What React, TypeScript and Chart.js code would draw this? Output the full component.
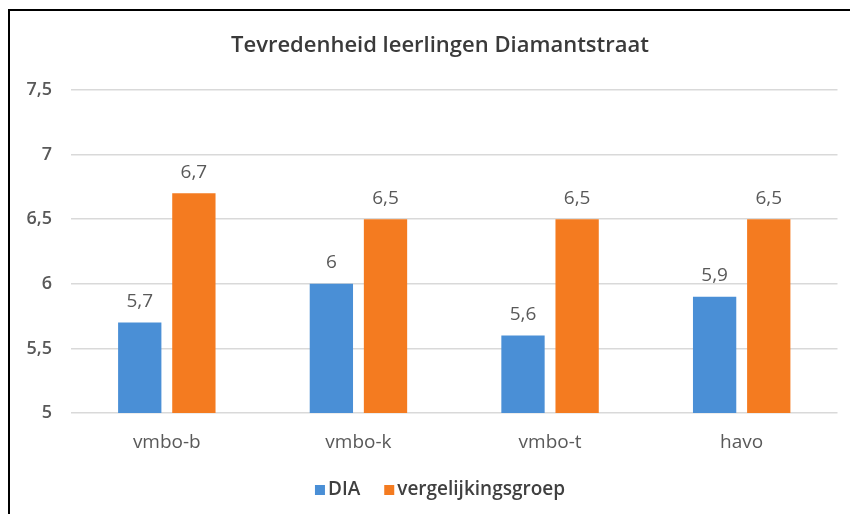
import React, { useEffect, useRef } from "react";
import { Chart, registerables } from "chart.js";

Chart.register(...registerables);

const categories = ["vmbo-b", "vmbo-k", "vmbo-t", "havo"];
const diaValues = [5.7, 6.0, 5.6, 5.9];
const vergelijkingValues = [6.7, 6.5, 6.5, 6.5];
const seriesNames = ["DIA", "vergelijkingsgroep"];
const seriesColors = ["#4a8fd6", "#f47b20"];
const titleText = "Tevredenheid leerlingen Diamantstraat";

const FONT = "'Open Sans', 'Liberation Sans', sans-serif";
const fmt = (v: number) => String(v).replace(".", ",");

// The original chart object is wider than the cropped picture, so its title and
// legend are centred on this x instead of the canvas centre.
const CENTER_X = 440;

const dataLabelPlugin = {
  id: "dataLabels",
  afterDatasetsDraw(chart: any) {
    const ctx = chart.ctx;
    ctx.save();
    ctx.font = `19px ${FONT}`;
    ctx.fillStyle = "#595959";
    ctx.textAlign = "center";
    ctx.textBaseline = "middle";
    chart.data.datasets.forEach((ds: any, di: number) => {
      const meta = chart.getDatasetMeta(di);
      meta.data.forEach((el: any, i: number) => {
        ctx.fillText(fmt(ds.data[i]), el.x, el.y - 21);
      });
    });
    ctx.restore();
  },
};

const titleLegendPlugin = {
  id: "titleLegend",
  afterDraw(chart: any) {
    const ctx = chart.ctx;
    ctx.save();
    // title
    const tb = chart.titleBlock;
    const tFont = 22;
    const tY = tb.top + 32.5 + (tFont * 1.2) / 2;
    ctx.font = `600 ${tFont}px ${FONT}`;
    ctx.fillStyle = "#3a3a3a";
    ctx.textAlign = "center";
    ctx.textBaseline = "middle";
    ctx.fillText(titleText, CENTER_X, tY);

    // legend
    ctx.font = `600 19px ${FONT}`;
    const box = 10;
    const gap = 3;
    const itemGap = 24;
    const widths = seriesNames.map((n) => ctx.measureText(n).width);
    const total =
      widths.reduce((a, w) => a + box + gap + w, 0) + itemGap * (seriesNames.length - 1);
    let x = CENTER_X - total / 2;
    const ly = chart.chartArea.bottom + 77;
    ctx.textAlign = "left";
    seriesNames.forEach((n, i) => {
      ctx.fillStyle = seriesColors[i];
      ctx.fillRect(x, ly - box / 2, box, box);
      x += box + gap;
      ctx.fillStyle = "#404040";
      ctx.fillText(n, x, ly);
      x += widths[i] + itemGap;
    });
    ctx.restore();
  },
};

export default function App() {
  const ref = useRef<HTMLCanvasElement | null>(null);
  useEffect(() => {
    document.body.style.overflow = "hidden";
    const chart = new Chart(ref.current as HTMLCanvasElement, {
      type: "bar",
      data: {
        labels: categories,
        datasets: [
          {
            label: seriesNames[0],
            data: diaValues,
            backgroundColor: seriesColors[0],
            barPercentage: 0.8,
            categoryPercentage: 0.565,
          },
          {
            label: seriesNames[1],
            data: vergelijkingValues,
            backgroundColor: seriesColors[1],
            barPercentage: 0.8,
            categoryPercentage: 0.565,
          },
        ],
      },
      options: {
        animation: false,
        responsive: false,
        layout: { padding: { top: 0, left: 0, right: 12.5, bottom: 42.5 } },
        plugins: {
          title: {
            display: true,
            text: titleText,
            color: "rgba(0,0,0,0)",
            font: { family: FONT, size: 22, weight: "600" },
            padding: { top: 32.5, bottom: 31.1 },
          },
          legend: { display: false },
          tooltip: { enabled: false },
        },
        scales: {
          x: {
            grid: { display: false, drawTicks: false },
            border: { display: false },
            ticks: {
              padding: 18,
              color: "#595959",
              font: { family: FONT, size: 19 },
            },
            afterFit: (s: any) => {
              s.height = 58.5;
            },
          },
          y: {
            min: 5,
            max: 7.5,
            grid: { color: "#d9d9d9", drawTicks: false, lineWidth: 1.5 },
            border: { display: false },
            ticks: {
              stepSize: 0.5,
              padding: 19,
              color: "#595959",
              font: { family: FONT, size: 18, weight: "600" },
              callback: (v: any) => fmt(Number(v)),
            },
            afterFit: (s: any) => {
              s.width = 71;
            },
          },
        },
      },
      plugins: [dataLabelPlugin, titleLegendPlugin],
    });
    return () => chart.destroy();
  }, []);
  return (
    <>
      <canvas
        ref={ref}
        width={850}
        height={514}
        style={{ position: "fixed", left: 0, top: 0, width: 850, height: 514 }}
      />
      <div
        style={{
          position: "fixed",
          left: 8,
          top: 9,
          width: 900,
          height: 600,
          border: "2px solid #000",
          pointerEvents: "none",
        }}
      />
    </>
  );
}
